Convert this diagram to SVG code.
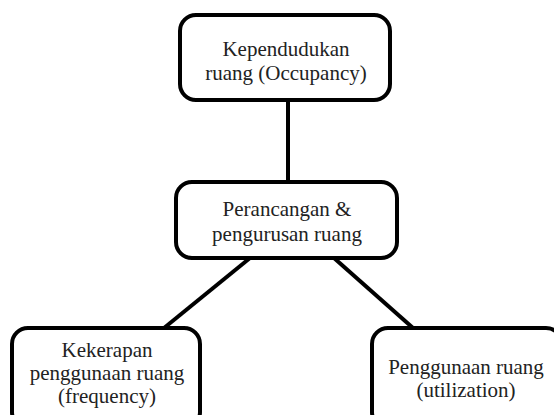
<svg xmlns="http://www.w3.org/2000/svg" width="554" height="415" viewBox="0 0 554 415">
<style>
.box{fill:#fff;stroke:#000;stroke-width:4}
.t{font-size:21px;fill:#222;text-anchor:middle}
.c{stroke:#000;stroke-width:4;fill:none}
</style>
<rect width="554" height="415" fill="#fff"/>
<g id="connectors">
<line class="c" x1="288" y1="100" x2="288" y2="182"/>
<line class="c" x1="250" y1="258" x2="164" y2="328"/>
<line class="c" x1="334" y1="258" x2="413" y2="328"/>
</g>
<g font-family="Liberation Serif, Times New Roman, serif">
<g id="n1">
<rect class="box" x="180" y="15" width="210" height="85" rx="16"/>
<text class="t" x="286" y="56">Kependudukan</text>
<text class="t" x="286" y="80">ruang (Occupancy)</text>
</g>
<g id="n2">
<rect class="box" x="176" y="182" width="221" height="76" rx="16"/>
<text class="t" x="287" y="216">Perancangan &amp;</text>
<text class="t" x="287" y="241">pengurusan ruang</text>
</g>
<g id="n3">
<rect class="box" x="12" y="328" width="188" height="100" rx="16"/>
<text class="t" x="107" y="357">Kekerapan</text>
<text class="t" x="107" y="380">penggunaan ruang</text>
<text class="t" x="107" y="403">(frequency)</text>
</g>
<g id="n4">
<rect class="box" x="372" y="328" width="190" height="100" rx="16"/>
<text class="t" x="466" y="374">Penggunaan ruang</text>
<text class="t" x="466" y="397">(utilization)</text>
</g>
</g>
</svg>
